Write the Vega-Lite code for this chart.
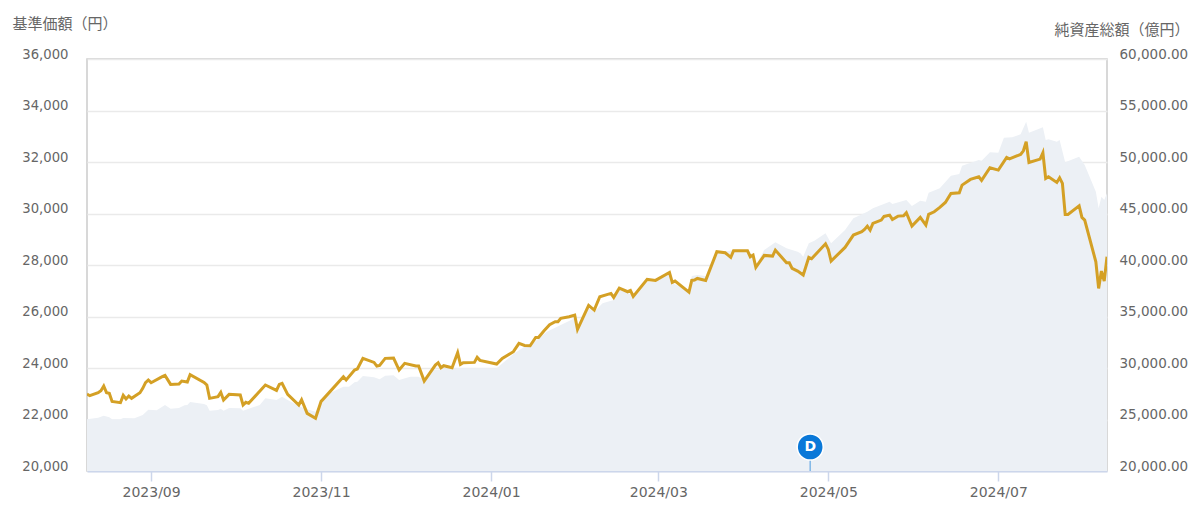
{"$schema":"https://vega.github.io/schema/vega-lite/v6.json","width":1020,"height":412,"autosize":{"type":"none"},"padding":{"left":87,"top":59,"right":93,"bottom":36},"background":"white","config":{"view":{"stroke":"#cccccc","strokeWidth":1.5},"font":"DejaVu Sans"},
"datasets":{"aum":[
{"date":"2023-08-09","aum":25016},{"date":"2023-08-13","aum":25178},{"date":"2023-08-15","aum":25372},{"date":"2023-08-17","aum":25210},{"date":"2023-08-18","aum":25016},{"date":"2023-08-21","aum":25016},{"date":"2023-08-22","aum":25145},{"date":"2023-08-26","aum":25113},{"date":"2023-08-29","aum":25436},{"date":"2023-08-31","aum":25954},{"date":"2023-09-03","aum":25890},{"date":"2023-09-06","aum":26407},{"date":"2023-09-08","aum":26051},{"date":"2023-09-11","aum":26116},{"date":"2023-09-13","aum":26375},{"date":"2023-09-14","aum":26407},{"date":"2023-09-15","aum":26699},{"date":"2023-09-20","aum":26504},{"date":"2023-09-21","aum":26375},{"date":"2023-09-22","aum":25857},{"date":"2023-09-25","aum":25922},{"date":"2023-09-26","aum":26051},{"date":"2023-09-27","aum":25857},{"date":"2023-09-29","aum":26116},{"date":"2023-10-03","aum":26084},{"date":"2023-10-04","aum":25857},{"date":"2023-10-06","aum":26051},{"date":"2023-10-10","aum":26407},{"date":"2023-10-12","aum":27054},{"date":"2023-10-16","aum":26893},{"date":"2023-10-18","aum":27216},{"date":"2023-10-20","aum":26893},{"date":"2023-10-24","aum":26310},{"date":"2023-10-27","aum":25987},{"date":"2023-10-30","aum":25760},{"date":"2023-11-01","aum":26731},{"date":"2023-11-04","aum":27540},{"date":"2023-11-09","aum":28187},{"date":"2023-11-11","aum":28187},{"date":"2023-11-13","aum":28608},{"date":"2023-11-14","aum":28672},{"date":"2023-11-16","aum":29223},{"date":"2023-11-20","aum":29093},{"date":"2023-11-22","aum":28899},{"date":"2023-11-24","aum":29255},{"date":"2023-11-27","aum":29287},{"date":"2023-11-29","aum":28834},{"date":"2023-12-03","aum":29158},{"date":"2023-12-06","aum":29158},{"date":"2023-12-08","aum":28834},{"date":"2023-12-11","aum":29805},{"date":"2023-12-20","aum":29967},{"date":"2023-12-23","aum":29967},{"date":"2024-01-03","aum":29967},{"date":"2024-01-09","aum":31358},{"date":"2024-01-13","aum":32070},{"date":"2024-01-16","aum":32394},{"date":"2024-01-21","aum":33526},{"date":"2024-01-26","aum":34174},{"date":"2024-01-31","aum":34821},{"date":"2024-02-01","aum":33688},{"date":"2024-02-05","aum":35792},{"date":"2024-02-07","aum":35468},{"date":"2024-02-10","aum":36277},{"date":"2024-02-14","aum":36601},{"date":"2024-02-16","aum":37571},{"date":"2024-02-21","aum":37086},{"date":"2024-02-26","aum":38380},{"date":"2024-02-29","aum":38380},{"date":"2024-03-05","aum":39125},{"date":"2024-03-06","aum":38219},{"date":"2024-03-12","aum":37571},{"date":"2024-03-13","aum":38931},{"date":"2024-03-15","aum":39028},{"date":"2024-03-18","aum":38931},{"date":"2024-03-22","aum":41196},{"date":"2024-03-28","aum":41455},{"date":"2024-04-02","aum":41455},{"date":"2024-04-04","aum":40969},{"date":"2024-04-05","aum":39998},{"date":"2024-04-08","aum":41455},{"date":"2024-04-12","aum":42199},{"date":"2024-04-16","aum":41616},{"date":"2024-04-20","aum":41293},{"date":"2024-04-21","aum":41131},{"date":"2024-04-22","aum":40807},{"date":"2024-04-24","aum":42102},{"date":"2024-04-26","aum":42361},{"date":"2024-04-30","aum":43073},{"date":"2024-05-02","aum":42102},{"date":"2024-05-07","aum":43396},{"date":"2024-05-10","aum":44529},{"date":"2024-05-15","aum":45176},{"date":"2024-05-17","aum":45500},{"date":"2024-05-20","aum":45823},{"date":"2024-05-23","aum":46147},{"date":"2024-05-24","aum":45920},{"date":"2024-05-29","aum":46309},{"date":"2024-05-31","aum":45726},{"date":"2024-06-03","aum":46244},{"date":"2024-06-05","aum":46147},{"date":"2024-06-06","aum":47020},{"date":"2024-06-10","aum":47441},{"date":"2024-06-14","aum":48671},{"date":"2024-06-17","aum":48833},{"date":"2024-06-18","aum":49642},{"date":"2024-06-24","aum":50192},{"date":"2024-06-25","aum":50127},{"date":"2024-06-28","aum":50936},{"date":"2024-07-01","aum":50904},{"date":"2024-07-03","aum":52360},{"date":"2024-07-06","aum":52393},{"date":"2024-07-09","aum":52684},{"date":"2024-07-11","aum":53913},{"date":"2024-07-12","aum":52845},{"date":"2024-07-17","aum":53363},{"date":"2024-07-18","aum":52133},{"date":"2024-07-19","aum":52198},{"date":"2024-07-22","aum":51971},{"date":"2024-07-23","aum":52133},{"date":"2024-07-25","aum":49965},{"date":"2024-07-30","aum":50515},{"date":"2024-08-01","aum":49706},{"date":"2024-08-05","aum":47118},{"date":"2024-08-06","aum":45500},{"date":"2024-08-07","aum":46632},{"date":"2024-08-08","aum":46309},{"date":"2024-08-09","aum":46956}],
"nav":[
{"date":"2023-08-09","nav":22989},{"date":"2023-08-10","nav":22924},{"date":"2023-08-13","nav":23041},{"date":"2023-08-14","nav":23119},{"date":"2023-08-15","nav":23300},{"date":"2023-08-16","nav":23041},{"date":"2023-08-17","nav":23015},{"date":"2023-08-18","nav":22704},{"date":"2023-08-21","nav":22653},{"date":"2023-08-22","nav":22937},{"date":"2023-08-23","nav":22795},{"date":"2023-08-24","nav":22912},{"date":"2023-08-25","nav":22821},{"date":"2023-08-28","nav":23041},{"date":"2023-08-29","nav":23209},{"date":"2023-08-30","nav":23429},{"date":"2023-08-31","nav":23533},{"date":"2023-09-01","nav":23429},{"date":"2023-09-05","nav":23662},{"date":"2023-09-06","nav":23714},{"date":"2023-09-08","nav":23364},{"date":"2023-09-11","nav":23377},{"date":"2023-09-12","nav":23494},{"date":"2023-09-14","nav":23455},{"date":"2023-09-15","nav":23740},{"date":"2023-09-20","nav":23442},{"date":"2023-09-21","nav":23339},{"date":"2023-09-22","nav":22821},{"date":"2023-09-25","nav":22886},{"date":"2023-09-26","nav":23054},{"date":"2023-09-27","nav":22756},{"date":"2023-09-29","nav":22976},{"date":"2023-10-03","nav":22950},{"date":"2023-10-04","nav":22562},{"date":"2023-10-05","nav":22666},{"date":"2023-10-06","nav":22627},{"date":"2023-10-12","nav":23339},{"date":"2023-10-16","nav":23131},{"date":"2023-10-17","nav":23364},{"date":"2023-10-18","nav":23403},{"date":"2023-10-20","nav":22976},{"date":"2023-10-24","nav":22562},{"date":"2023-10-25","nav":22769},{"date":"2023-10-27","nav":22239},{"date":"2023-10-30","nav":22045},{"date":"2023-11-01","nav":22704},{"date":"2023-11-02","nav":22821},{"date":"2023-11-09","nav":23662},{"date":"2023-11-10","nav":23533},{"date":"2023-11-13","nav":23921},{"date":"2023-11-14","nav":23960},{"date":"2023-11-16","nav":24374},{"date":"2023-11-20","nav":24218},{"date":"2023-11-21","nav":24076},{"date":"2023-11-22","nav":24102},{"date":"2023-11-24","nav":24374},{"date":"2023-11-27","nav":24387},{"date":"2023-11-29","nav":23921},{"date":"2023-12-01","nav":24180},{"date":"2023-12-05","nav":24076},{"date":"2023-12-06","nav":24076},{"date":"2023-12-08","nav":23494},{"date":"2023-12-12","nav":24115},{"date":"2023-12-13","nav":24206},{"date":"2023-12-14","nav":24011},{"date":"2023-12-15","nav":24089},{"date":"2023-12-18","nav":24011},{"date":"2023-12-20","nav":24594},{"date":"2023-12-21","nav":24141},{"date":"2023-12-22","nav":24206},{"date":"2023-12-26","nav":24218},{"date":"2023-12-27","nav":24413},{"date":"2023-12-28","nav":24296},{"date":"2024-01-03","nav":24154},{"date":"2024-01-05","nav":24374},{"date":"2024-01-09","nav":24633},{"date":"2024-01-11","nav":24956},{"date":"2024-01-13","nav":24878},{"date":"2024-01-15","nav":24865},{"date":"2024-01-17","nav":25189},{"date":"2024-01-18","nav":25189},{"date":"2024-01-20","nav":25448},{"date":"2024-01-22","nav":25681},{"date":"2024-01-24","nav":25797},{"date":"2024-01-25","nav":25797},{"date":"2024-01-26","nav":25927},{"date":"2024-01-29","nav":25991},{"date":"2024-01-31","nav":26056},{"date":"2024-02-01","nav":25500},{"date":"2024-02-05","nav":26431},{"date":"2024-02-07","nav":26250},{"date":"2024-02-09","nav":26768},{"date":"2024-02-13","nav":26897},{"date":"2024-02-14","nav":26742},{"date":"2024-02-16","nav":27104},{"date":"2024-02-19","nav":26962},{"date":"2024-02-20","nav":27013},{"date":"2024-02-21","nav":26781},{"date":"2024-02-26","nav":27440},{"date":"2024-02-29","nav":27402},{"date":"2024-03-05","nav":27712},{"date":"2024-03-06","nav":27324},{"date":"2024-03-07","nav":27376},{"date":"2024-03-12","nav":26949},{"date":"2024-03-13","nav":27402},{"date":"2024-03-14","nav":27415},{"date":"2024-03-15","nav":27479},{"date":"2024-03-18","nav":27402},{"date":"2024-03-22","nav":28515},{"date":"2024-03-25","nav":28476},{"date":"2024-03-27","nav":28295},{"date":"2024-03-28","nav":28553},{"date":"2024-04-02","nav":28553},{"date":"2024-04-03","nav":28320},{"date":"2024-04-04","nav":28385},{"date":"2024-04-05","nav":27906},{"date":"2024-04-08","nav":28372},{"date":"2024-04-11","nav":28346},{"date":"2024-04-12","nav":28579},{"date":"2024-04-16","nav":28088},{"date":"2024-04-17","nav":28088},{"date":"2024-04-18","nav":27868},{"date":"2024-04-20","nav":27764},{"date":"2024-04-22","nav":27609},{"date":"2024-04-24","nav":28295},{"date":"2024-04-25","nav":28243},{"date":"2024-04-30","nav":28825},{"date":"2024-05-01","nav":28605},{"date":"2024-05-02","nav":28152},{"date":"2024-05-07","nav":28683},{"date":"2024-05-10","nav":29162},{"date":"2024-05-13","nav":29291},{"date":"2024-05-14","nav":29382},{"date":"2024-05-15","nav":29511},{"date":"2024-05-16","nav":29356},{"date":"2024-05-17","nav":29614},{"date":"2024-05-20","nav":29744},{"date":"2024-05-21","nav":29886},{"date":"2024-05-23","nav":29938},{"date":"2024-05-24","nav":29770},{"date":"2024-05-26","nav":29899},{"date":"2024-05-28","nav":29912},{"date":"2024-05-29","nav":30029},{"date":"2024-05-31","nav":29511},{"date":"2024-06-03","nav":29847},{"date":"2024-06-05","nav":29550},{"date":"2024-06-06","nav":29964},{"date":"2024-06-08","nav":30067},{"date":"2024-06-10","nav":30236},{"date":"2024-06-12","nav":30430},{"date":"2024-06-14","nav":30779},{"date":"2024-06-17","nav":30805},{"date":"2024-06-18","nav":31103},{"date":"2024-06-21","nav":31323},{"date":"2024-06-24","nav":31426},{"date":"2024-06-25","nav":31284},{"date":"2024-06-28","nav":31775},{"date":"2024-07-01","nav":31685},{"date":"2024-07-04","nav":32176},{"date":"2024-07-05","nav":32125},{"date":"2024-07-09","nav":32293},{"date":"2024-07-10","nav":32435},{"date":"2024-07-11","nav":32785},{"date":"2024-07-12","nav":31982},{"date":"2024-07-16","nav":32112},{"date":"2024-07-17","nav":32358},{"date":"2024-07-18","nav":31361},{"date":"2024-07-19","nav":31426},{"date":"2024-07-22","nav":31206},{"date":"2024-07-23","nav":31387},{"date":"2024-07-24","nav":31167},{"date":"2024-07-25","nav":29964},{"date":"2024-07-26","nav":29964},{"date":"2024-07-30","nav":30300},{"date":"2024-07-31","nav":29847},{"date":"2024-08-01","nav":29744},{"date":"2024-08-05","nav":28126},{"date":"2024-08-06","nav":27091},{"date":"2024-08-07","nav":27764},{"date":"2024-08-08","nav":27376},{"date":"2024-08-09","nav":28320}],
"flag":[{"date":"2024-04-24T12:00:00Z","base":20000,"nav":20932,"label":"D"}]},
"encoding":{"x":{"field":"date","type":"temporal","scale":{"type":"utc","domain":["2023-08-09","2024-08-09"]},"title":null,"axis":{"values":["2023-09-01","2023-11-01","2024-01-01","2024-03-01","2024-05-01","2024-07-01"],"labelExpr":"utcFormat(datum.value,'%Y/%m')","grid":false,"domainColor":"#ccd6eb","domainWidth":2,"tickColor":"#ccd6eb","tickWidth":1.5,"tickSize":10,"labelFontSize":14,"labelColor":"#666666","labelFont":"DejaVu Sans","labelPadding":4}}},
"layer":[
{"data":{"name":"aum"},"mark":{"type":"area","color":"#ecf0f5","clip":true},"encoding":{"y":{"field":"aum","type":"quantitative","scale":{"domain":[20000,60000],"nice":false,"zero":false},"axis":{"orient":"right","values":[20000,25000,30000,35000,40000,45000,50000,55000,60000],"format":",.2f","grid":false,"domain":false,"ticks":false,"labelFontSize":13.5,"labelColor":"#666666","labelOffset":-5,"labelPadding":12,"title":"純資産総額（億円）","titleFont":"Noto Sans CJK JP","titleFontSize":15,"titleFontWeight":"normal","titleColor":"#666666","titleAngle":0,"titleAlign":"left","titleBaseline":"middle","titleX":-53,"titleY":-30}}}},
{"data":{"name":"nav"},"mark":{"type":"line","color":"#d4a025","strokeWidth":3,"strokeJoin":"miter","clip":true},"encoding":{"y":{"field":"nav","type":"quantitative","scale":{"domain":[20000,36000],"nice":false,"zero":false},"axis":{"orient":"left","values":[20000,22000,24000,26000,28000,30000,32000,34000,36000],"format":",.0f","grid":true,"gridColor":"#eaeaea","gridWidth":1.5,"domain":false,"ticks":false,"labelFontSize":13.2,"labelColor":"#666666","labelOffset":-5,"labelPadding":19,"title":"基準価額（円）","titleFont":"Noto Sans CJK JP","titleFontSize":15,"titleFontWeight":"normal","titleColor":"#666666","titleAngle":0,"titleAlign":"left","titleBaseline":"middle","titleX":-75,"titleY":-36}}}},
{"data":{"name":"flag"},"mark":{"type":"rule","color":"#7fb6e6","strokeWidth":1.5},"encoding":{"y":{"field":"base","type":"quantitative","scale":{"domain":[20000,36000],"nice":false,"zero":false},"axis":null},"y2":{"field":"nav"}}},
{"data":{"name":"flag"},"mark":{"type":"point","filled":true,"shape":"circle","size":680,"color":"#0a78d8","stroke":"#ffffff","strokeWidth":1.5,"opacity":1},"encoding":{"y":{"field":"nav","type":"quantitative","scale":{"domain":[20000,36000],"nice":false,"zero":false},"axis":null}}},
{"data":{"name":"flag"},"mark":{"type":"text","color":"#ffffff","font":"DejaVu Sans","fontWeight":"bold","fontSize":14,"align":"center","baseline":"middle"},"encoding":{"text":{"field":"label"},"y":{"field":"nav","type":"quantitative","scale":{"domain":[20000,36000],"nice":false,"zero":false},"axis":null}}}
],"resolve":{"scale":{"y":"independent"}}}
